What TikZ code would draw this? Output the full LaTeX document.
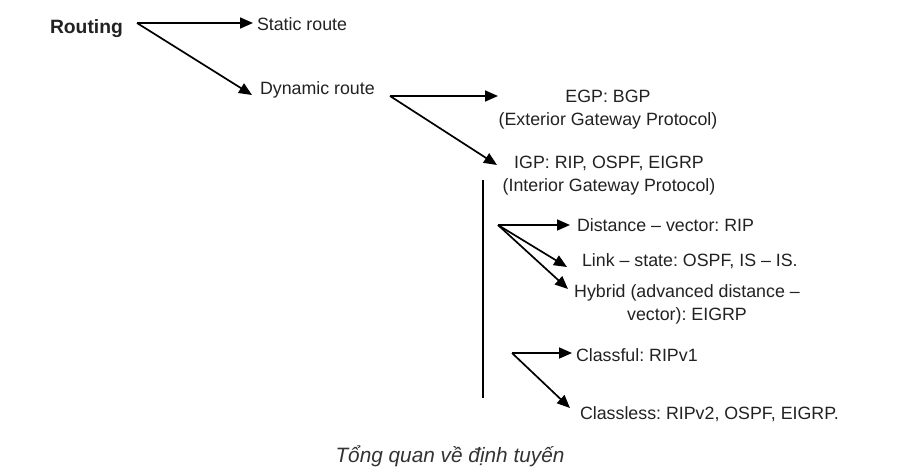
\documentclass[tikz,border=0pt]{standalone}
\usepackage{fontspec}
\setmainfont{Liberation Sans}
\usetikzlibrary{arrows.meta}
\definecolor{txt}{HTML}{222222}
\definecolor{captxt}{HTML}{333333}
\frenchspacing
\begin{document}
\begin{tikzpicture}[x=1pt,y=-1pt,
  lbl/.style={inner sep=0pt, outer sep=0pt, text=txt, font=\fontsize{17.8}{23}\selectfont\frenchspacing},
  blk/.style={lbl, align=center},
  arr/.style={-{Triangle[length=13pt,width=11pt]}, line width=1.7pt, black},
  plain/.style={line width=1.7pt, black}
  ]
\useasboundingbox[fill=white] (0,0) rectangle (913,475);

% texts
\node[lbl, anchor=base west, font=\fontsize{19.3}{23}\selectfont\bfseries] (routing) at (50,33) {Routing};
\node[lbl, anchor=base west] (static) at (257,30) {Static route};
\node[lbl, anchor=base west] (dyn) at (260,94) {Dynamic route};
\node[blk, anchor=base] (egp) at (608,125) {EGP: BGP\\(Exterior Gateway Protocol)};
\node[blk, anchor=base] (igp) at (609,191) {IGP: RIP, OSPF, EIGRP\\(Interior Gateway Protocol)};
\node[lbl, anchor=base west] (dv) at (577,231) {Distance -- vector: RIP};
\node[lbl, anchor=base west] (ls) at (582,266) {Link -- state: OSPF, IS -- IS.};
\node[blk, anchor=base] (hyb) at (687,320) {Hybrid (advanced distance --\\vector): EIGRP};
\node[lbl, anchor=base west] (cf) at (576,361) {Classful: RIPv1};
\node[lbl, anchor=base west] (cl) at (580,419) {Classless: RIPv2, OSPF, EIGRP.};
\node[inner sep=0pt, anchor=base, text=captxt, font=\fontsize{20.8}{24}\selectfont\itshape] (caption) at (450,462) {Tổng quan về định tuyến};

% branch points
\coordinate (r0) at (137,23);
\coordinate (d0) at (390,96);
\coordinate (i0) at (498,225);
\coordinate (c0) at (512,353);
\coordinate (vtop) at (483,180);
\coordinate (vbot) at (483,398);

% connectors
\draw[arr] (r0) -- ([shift={(-4,-7)}]static.base west);
\draw[arr] (r0) -- ([shift={(-8,1)}]dyn.base west);
\draw[arr] (d0) -- ([shift={(-110,-29)}]egp.base);
\draw[arr] (d0) -- ([shift={(-112,-26)}]igp.base);
\draw[plain] (vtop) -- (vbot);
\draw[arr] (i0) -- ([shift={(-7,-6)}]dv.base west);
\draw[arr] (i0) -- ([shift={(-15,1)}]ls.base west);
\draw[arr] (i0) -- ([shift={(-119,-31)}]hyb.base);
\draw[arr] (c0) -- ([shift={(-4,-8)}]cf.base west);
\draw[arr] (c0) -- ([shift={(-10,-11)}]cl.base west);
\end{tikzpicture}
\end{document}
